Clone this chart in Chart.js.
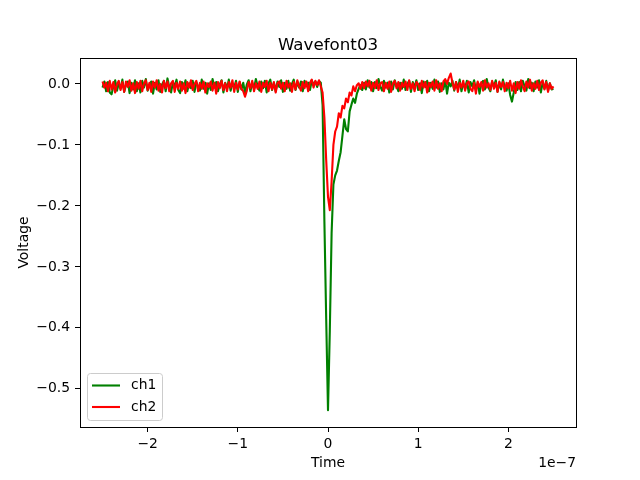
<!DOCTYPE html>
<html>
<head>
<meta charset="utf-8">
<title>Wavefont03</title>
<script src="https://cdn.jsdelivr.net/npm/chart.js@4.4.1/dist/chart.umd.min.js"></script>
<style>
  html, body { margin: 0; padding: 0; background: #fff; }
  #wrap { width: 640px; height: 480px; }
</style>
</head>
<body>
<div id="wrap"><canvas id="waveChart" width="640" height="480"></canvas></div>
<script>
// sample times in ns (scope record, 2 ns step)
const timeNs = [
  -250,-248,-246,-244,-242,-240,-238,-236,-234,-232,
  -230,-228,-226,-224,-222,-220,-218,-216,-214,-212,
  -210,-208,-206,-204,-202,-200,-198,-196,-194,-192,
  -190,-188,-186,-184,-182,-180,-178,-176,-174,-172,
  -170,-168,-166,-164,-162,-160,-158,-156,-154,-152,
  -150,-148,-146,-144,-142,-140,-138,-136,-134,-132,
  -130,-128,-126,-124,-122,-120,-118,-116,-114,-112,
  -110,-108,-106,-104,-102,-100,-98,-96,-94,-92,
  -90,-88,-86,-84,-82,-80,-78,-76,-74,-72,
  -70,-68,-66,-64,-62,-60,-58,-56,-54,-52,
  -50,-48,-46,-44,-42,-40,-38,-36,-34,-32,
  -30,-28,-26,-24,-22,-20,-18,-16,-14,-12,
  -10,-8,-6,-4,-2,0,2,4,6,8,
  10,12,14,16,18,20,22,24,26,28,
  30,32,34,36,38,40,42,44,46,48,
  50,52,54,56,58,60,62,64,66,68,
  70,72,74,76,78,80,82,84,86,88,
  90,92,94,96,98,100,102,104,106,108,
  110,112,114,116,118,120,122,124,126,128,
  130,132,134,136,138,140,142,144,146,148,
  150,152,154,156,158,160,162,164,166,168,
  170,172,174,176,178,180,182,184,186,188,
  190,192,194,196,198,200,202,204,206,208,
  210,212,214,216,218,220,222,224,226,228,
  230,232,234,236,238,240,242,244,246,248,
  250
];

// channel 1 voltage (V)
const ch1 = [
  -0.006, 0.004, -0.012, 0.003, -0.014, -0.017, -0.004, 0.006, -0.011, 0.001,
  -0.008, 0.007, -0.013, -0.002, 0.004, -0.015, 0.002, -0.009, 0.006, -0.012,
  0.001, -0.014, 0.005, -0.006, 0.008, -0.011, -0.003, 0.004, -0.016, 0.002,
  -0.009, 0.006, -0.013, -0.001, 0.005, -0.012, 0.009, -0.005, -0.014, 0.003,
  -0.004, 0.007, -0.010, -0.015, 0.003, -0.008, 0.006, -0.012, 0.001, -0.007,
  0.005, -0.013, 0.003, -0.004, -0.011, 0.007, -0.008, 0.002, -0.016, 0.001,
  -0.010, 0.008, -0.006, 0.003, -0.012, -0.001, 0.006, -0.014, 0.002, -0.008,
  0.007, -0.011, 0.001, -0.006, 0.005, -0.013, 0.003, -0.009, 0.002, -0.015,
  -0.001, 0.006, -0.012, 0.002, -0.008, 0.008, -0.004, -0.011, 0.004, -0.007,
  0.005, -0.014, 0.001, 0.007, -0.010, 0.002, -0.012, 0.004, -0.005, 0.006,
  -0.013, 0.002, -0.008, 0.005, -0.011, 0.000, 0.007, -0.010, 0.003, -0.006,
  0.004, -0.012, 0.005, -0.004, 0.002, -0.010, 0.006, -0.002, 0.004, -0.005,
  0.005, 0.002, -0.035, -0.225, -0.385, -0.535, -0.405, -0.245, -0.165, -0.150,
  -0.142, -0.126, -0.112, -0.085, -0.058, -0.074, -0.078, -0.045, -0.034, -0.024,
  -0.031, -0.016, -0.008, -0.002, -0.010, 0.002, -0.009, 0.006, -0.006, 0.003,
  -0.012, 0.003, -0.007, 0.008, -0.004, -0.011, 0.005, -0.006, 0.002, -0.014,
  0.004, -0.009, 0.006, -0.003, -0.012, 0.002, -0.008, 0.007, -0.010, 0.000,
  0.005, -0.013, 0.003, -0.006, 0.006, -0.010, 0.001, -0.015, 0.004, -0.005,
  0.005, -0.012, 0.002, -0.008, 0.007, -0.006, 0.004, -0.013, 0.001, -0.009,
  0.006, -0.016, 0.002, -0.004, 0.005, -0.011, 0.003, -0.008, 0.007, -0.012,
  0.001, -0.007, 0.005, -0.014, 0.003, -0.004, 0.006, -0.010, 0.002, -0.016,
  0.000, 0.005, -0.009, 0.008, -0.006, -0.012, 0.004, -0.005, 0.006, -0.013,
  0.002, -0.009, 0.007, -0.005, -0.011, 0.001, -0.018, -0.029, -0.014, 0.003,
  -0.010, 0.003, -0.012, 0.005, -0.004, -0.011, 0.008, -0.007, 0.002, -0.012,
  0.004, -0.006, 0.006, -0.014, 0.002, -0.008, 0.005, -0.011, 0.001, -0.009,
  -0.008
];

// channel 2 voltage (V)
const ch2 = [
  0.004, -0.006, 0.002, -0.012, 0.005, -0.009, 0.003, -0.014, 0.000, 0.005,
  -0.010, 0.003, -0.013, 0.004, -0.005, 0.006, -0.011, 0.001, -0.015, 0.003,
  -0.008, 0.005, -0.012, 0.001, 0.006, -0.010, 0.002, -0.013, 0.004, -0.006,
  0.006, -0.011, 0.000, -0.014, 0.005, -0.007, 0.004, -0.012, 0.001, 0.005,
  -0.013, 0.002, -0.008, 0.004, -0.011, 0.001, -0.015, 0.003, -0.006, 0.006,
  -0.010, 0.000, 0.005, -0.012, 0.002, -0.008, 0.004, -0.014, 0.001, -0.005,
  0.004, -0.011, 0.002, -0.016, 0.003, -0.007, 0.005, -0.010, 0.001, -0.012,
  0.003, -0.006, 0.006, -0.013, 0.002, -0.009, 0.004, -0.008, -0.012, -0.021,
  -0.011, 0.003, -0.007, 0.005, -0.012, 0.001, -0.008, 0.004, -0.013, 0.002,
  -0.005, 0.005, -0.012, 0.002, -0.009, 0.003, -0.014, 0.001, 0.004, -0.008,
  0.002, -0.012, 0.005, -0.006, 0.001, -0.013, 0.003, -0.009, 0.006, -0.004,
  -0.011, 0.003, -0.007, 0.004, -0.012, 0.002, 0.007, -0.006, 0.005, -0.002,
  0.006, -0.004, -0.014, -0.055, -0.125, -0.185, -0.207, -0.160, -0.100, -0.078,
  -0.070, -0.048, -0.055, -0.036, -0.040, -0.024, -0.030, -0.014, -0.019, -0.004,
  -0.012, -0.002, 0.001, -0.008, 0.003, -0.007, 0.004, -0.004, 0.005, -0.011,
  0.002, -0.007, 0.006, -0.010, 0.001, 0.003, -0.012, 0.002, -0.008, 0.004,
  -0.013, 0.001, 0.005, -0.007, 0.003, -0.011, 0.002, -0.005, 0.004, -0.010,
  0.006, -0.008, 0.001, -0.012, 0.003, 0.000, -0.010, 0.005, -0.006, 0.003,
  -0.014, 0.002, -0.005, 0.004, -0.011, 0.006, -0.008, 0.001, -0.012, 0.004,
  0.008, 0.000, 0.010, 0.017, 0.002, -0.009, 0.003, -0.013, 0.002, -0.006,
  0.005, -0.011, 0.001, 0.004, -0.008, -0.012, 0.002, -0.016, 0.004, -0.005,
  0.003, -0.011, 0.006, -0.006, 0.001, -0.010, 0.005, -0.008, 0.002, -0.013,
  0.004, -0.005, 0.003, -0.012, 0.002, -0.007, 0.005, -0.011, 0.001, -0.015,
  0.003, -0.008, 0.006, -0.004, -0.012, 0.004, -0.006, 0.007, -0.011, 0.001,
  -0.008, 0.005, -0.010, 0.002, 0.006, -0.009, 0.003, -0.013, 0.001, -0.008,
  -0.004
];

// axis ticks (x in ns, labelled in units of 1e-7 s)
const xTicks = [-200, -100, 0, 100, 200];
const xTickLabels = ['\u22122', '\u22121', '0', '1', '2'];
const yTicks = [-0.5, -0.4, -0.3, -0.2, -0.1, 0.0];
const yTickLabels = ['\u22120.5', '\u22120.4', '\u22120.3', '\u22120.2', '\u22120.1', '0.0'];

const seriesNames = ['ch1', 'ch2'];
const seriesColors = ['#008000', '#ff0000'];

const FONT = "'DejaVu Sans', sans-serif";
const LABEL_SIZE = 13.9;

// frame, titles and legend, drawn the matplotlib way
const decorations = {
    id: 'decorations',
    afterDatasetsDraw(chart) {
        const { ctx, chartArea: a } = chart;
        ctx.save();
        ctx.strokeStyle = '#000';
        ctx.lineWidth = 1;
        ctx.strokeRect(Math.round(a.left) + 0.5, Math.round(a.top) + 0.5,
            Math.round(a.right - a.left), Math.round(a.bottom - a.top));
        ctx.restore();
    },
    afterDraw(chart) {
        const { ctx, chartArea: a } = chart;
        const cx = (a.left + a.right) / 2;
        ctx.save();
        ctx.fillStyle = '#000';

        // title
        ctx.font = `16.7px ${FONT}`;
        ctx.textAlign = 'center';
        ctx.textBaseline = 'alphabetic';
        ctx.fillText('Wavefont03', cx, 49.5);

        // axis labels
        ctx.font = `${LABEL_SIZE}px ${FONT}`;
        ctx.fillText('Time', cx, 467);
        ctx.textAlign = 'right';
        ctx.fillText('1e\u22127', a.right, 467);

        ctx.save();
        ctx.translate(28, (a.top + a.bottom) / 2);
        ctx.rotate(-Math.PI / 2);
        ctx.textAlign = 'center';
        ctx.fillText('Voltage', 0, 0);
        ctx.restore();

        // legend
        const box = { x: 87.5, y: 373.5, w: 75, h: 47 };
        ctx.beginPath();
        ctx.roundRect(box.x, box.y, box.w, box.h, 3);
        ctx.fillStyle = 'rgba(255,255,255,0.8)';
        ctx.fill();
        ctx.strokeStyle = '#cccccc';
        ctx.lineWidth = 1;
        ctx.stroke();

        ctx.textAlign = 'left';
        ctx.textBaseline = 'middle';
        seriesNames.forEach((name, i) => {
            const y = 385.5 + i * 21.5;
            ctx.beginPath();
            ctx.moveTo(92, y);
            ctx.lineTo(120, y);
            ctx.strokeStyle = seriesColors[i];
            ctx.lineWidth = 2.1;
            ctx.stroke();
            ctx.fillStyle = '#000';
            ctx.fillText(name, 131, y);
        });
        ctx.restore();
    }
};

const ctx = document.getElementById('waveChart');

new Chart(ctx, {
    type: 'line',
    data: {
        datasets: [ch1, ch2].map((values, k) => ({
            label: seriesNames[k],
            data: timeNs.map((t, i) => ({ x: t, y: values[i] })),
            borderColor: seriesColors[k],
            borderWidth: 2.1,
            borderJoinStyle: 'round',
            pointRadius: 0,
            tension: 0,
            fill: false,
            order: k === 0 ? 1 : 0
        }))
    },
    options: {
        responsive: false,
        devicePixelRatio: 1,
        animation: false,
        layout: {
            padding: { left: 0, top: 58, right: 64, bottom: 0 }
        },
        plugins: {
            legend: { display: false },
            title: { display: false },
            tooltip: { enabled: false }
        },
        scales: {
            x: {
                type: 'linear',
                min: -275,
                max: 275,
                afterFit: (s) => { s.height = 53; },
                afterBuildTicks: (s) => { s.ticks = xTicks.map(v => ({ value: v })); },
                grid: {
                    drawOnChartArea: false,
                    drawTicks: true,
                    tickLength: 5,
                    tickColor: '#000'
                },
                border: { display: false },
                ticks: {
                    color: '#000',
                    autoSkip: false,
                    maxRotation: 0,
                    padding: 4,
                    font: { family: FONT, size: LABEL_SIZE },
                    callback: (v, i) => xTickLabels[i]
                }
            },
            y: {
                type: 'linear',
                min: -0.5625,
                max: 0.0425,
                afterFit: (s) => { s.width = 80; },
                afterBuildTicks: (s) => { s.ticks = yTicks.map(v => ({ value: v })); },
                grid: {
                    drawOnChartArea: false,
                    drawTicks: true,
                    tickLength: 5,
                    tickColor: '#000'
                },
                border: { display: false },
                ticks: {
                    color: '#000',
                    autoSkip: false,
                    padding: 5,
                    font: { family: FONT, size: LABEL_SIZE },
                    callback: (v, i) => yTickLabels[i]
                }
            }
        }
    },
    plugins: [decorations]
});
</script>
</body>
</html>
